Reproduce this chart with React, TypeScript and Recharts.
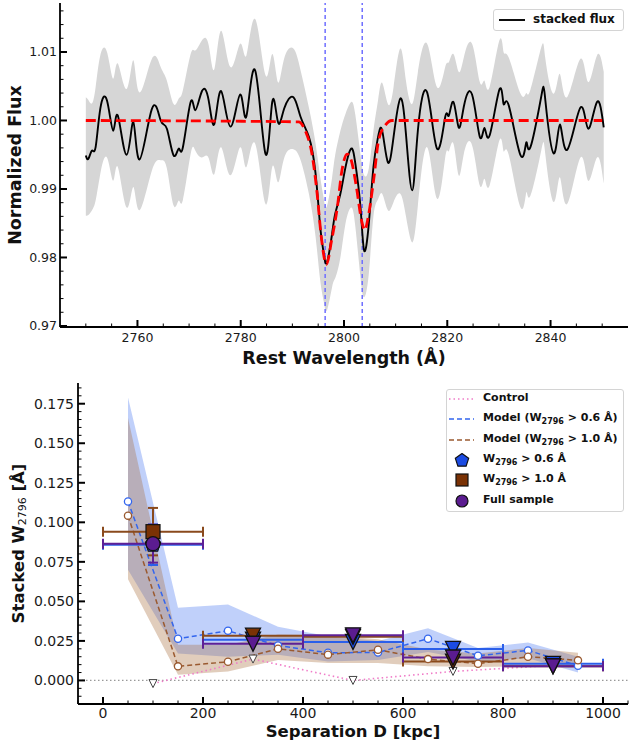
import React from 'react';
import { ComposedChart, Line, Area, Scatter, XAxis, YAxis, ReferenceLine, ErrorBar } from 'recharts';

const FONT = '"DejaVu Sans", "Liberation Sans", sans-serif';

// ---------- top panel: stacked Mg II spectrum ----------
const WAVE = [
  2750.0, 2750.5, 2751.2, 2751.9, 2752.8, 2754.1, 2755.3, 2756.2, 2757.9, 2759.2,
  2760.4, 2762.8, 2764.5, 2765.7, 2767.0, 2768.0, 2768.8, 2770.3, 2771.2, 2772.5,
  2773.8, 2774.9, 2776.2, 2778.0, 2779.9, 2781.1, 2782.8, 2784.8, 2786.1, 2787.2,
  2788.4, 2790.2, 2791.6, 2793.2, 2794.5, 2795.4, 2796.1, 2796.7, 2797.7, 2798.3,
  2799.3, 2800.3, 2801.4, 2802.2, 2803.2, 2803.9, 2804.8, 2805.7, 2806.6, 2807.4,
  2808.5, 2809.6, 2810.9, 2812.0, 2813.2, 2814.3, 2816.1, 2818.0, 2819.6, 2820.3,
  2821.2, 2822.2, 2823.2, 2824.8, 2826.3, 2827.2, 2828.2, 2830.1, 2830.9, 2831.9,
  2834.2, 2835.3, 2836.1, 2838.2, 2839.0, 2840.6, 2841.8, 2843.2, 2845.8, 2847.3,
  2849.0, 2850.3,
];
const FLUX = [
  0.9949, 0.9944, 0.9956, 0.9961, 1.0017, 1.0029, 0.9985, 1.0007, 0.995, 0.9998,
  0.9943, 1.0017, 1.0, 0.9988, 0.9949, 0.9959, 0.9961, 1.0027, 1.0015, 1.0043,
  1.0029, 0.9995, 1.0043, 0.9991, 1.0038, 1.0006, 1.0073, 0.9951, 1.0027, 0.9998,
  1.0017, 1.0034, 1.0005, 0.9976, 0.9922, 0.9844, 0.9805, 0.9793, 0.9835, 0.9864,
  0.9893, 0.9932, 0.9959, 0.9937, 0.9873, 0.981, 0.9849, 0.9932, 0.9976, 0.9985,
  0.9939, 0.9976, 1.0032, 0.998, 0.9898, 0.9985, 1.0041, 0.9959, 1.0005, 1.0007,
  1.0027, 0.999, 1.002, 1.0038, 0.9976, 0.9989, 0.9978, 1.0045, 1.0024, 1.0022,
  0.9949, 0.9968, 0.9961, 1.0035, 1.0029, 0.9952, 0.9994, 0.9957, 1.0019, 0.9988,
  1.0027, 0.999,
];
const FLUX_LO = [
  0.9861, 0.9862, 0.9869, 0.9883, 0.9922, 0.9946, 0.9912, 0.9932, 0.9873, 0.9903,
  0.9869, 0.9927, 0.9942, 0.993, 0.9876, 0.9883, 0.9884, 0.9951, 0.9956, 0.9946,
  0.9945, 0.9922, 0.9961, 0.992, 0.9961, 0.9932, 0.9966, 0.9878, 0.9932, 0.991,
  0.9945, 0.9958, 0.9942, 0.9893, 0.983, 0.9766, 0.9735, 0.9723, 0.9757, 0.977,
  0.98, 0.985, 0.9873, 0.9845, 0.977, 0.9742, 0.9776, 0.986, 0.9885, 0.9893,
  0.9869, 0.9881, 0.9893, 0.986, 0.9822, 0.9875, 0.9961, 0.9886, 0.9946, 0.9955,
  0.9966, 0.992, 0.9951, 0.9964, 0.9905, 0.9915, 0.9905, 0.9971, 0.9955, 0.995,
  0.9873, 0.9895, 0.989, 0.9956, 0.995, 0.9881, 0.9917, 0.9878, 0.9946, 0.9912,
  0.9946, 0.9908,
];
const FLUX_HI = [
  1.0034, 1.003, 1.0025, 1.0049, 1.0095, 1.01, 1.0061, 1.0083, 1.0046, 1.0088,
  1.0041, 1.009, 1.0078, 1.0058, 1.0024, 1.0032, 1.0044, 1.0097, 1.0102, 1.0117,
  1.011, 1.0075, 1.0131, 1.0078, 1.0112, 1.0095, 1.0148, 1.0066, 1.0097, 1.0056,
  1.009, 1.0105, 1.0073, 1.0019, 0.9966, 0.9917, 0.9885, 0.9875, 0.9917, 0.995,
  0.9985, 1.001, 1.0027, 1.0008, 0.995, 0.992, 0.993, 0.9985, 1.003, 1.0055,
  1.0024, 1.0049, 1.0105, 1.0058, 1.0024, 1.007, 1.0112, 1.0049, 1.0078, 1.0085,
  1.0097, 1.0071, 1.0092, 1.0112, 1.0056, 1.0058, 1.0049, 1.0117, 1.01, 1.0092,
  1.0039, 1.004, 1.0045, 1.0107, 1.009, 1.0039, 1.0068, 1.0034, 1.009, 1.0056,
  1.0095, 1.0071,
];
const FIT_WAVE = [
  2750, 2791.2, 2792.5, 2793.8, 2794.8, 2795.6, 2796.6, 2797.6, 2798.7, 2799.6,
  2800.6, 2801.4, 2802.4, 2803.4, 2804.0, 2804.8, 2805.8, 2806.7, 2808.0, 2809.3, 2850,
];
const FIT_FLUX = [
  1.0, 0.9998, 0.9985, 0.9951, 0.9893, 0.983, 0.979, 0.9825, 0.9873, 0.9927,
  0.9951, 0.9942, 0.9903, 0.9854, 0.984, 0.9864, 0.9917, 0.9971, 0.9993, 1.0, 1.0,
];
const MGII = [2796.35, 2803.53];
const WAVE_MAJOR = [2760, 2780, 2800, 2820, 2840];
const FLUX_MAJOR = [0.97, 0.98, 0.99, 1.0, 1.01];

// ---------- bottom panel: W2796 vs separation ----------
const SEP = [50, 150, 250, 350, 450, 550, 650, 750, 850, 950];
const MOD06 = [0.1132, 0.0264, 0.0314, 0.0221, 0.0175, 0.0177, 0.0264, 0.0156, 0.019, 0.0093];
const MOD06_LO = [0.07, 0.017, 0.015, 0.0163, 0.012, 0.013, 0.018, 0.012, 0.014, 0.005];
const MOD06_HI = [0.179, 0.046, 0.048, 0.034, 0.028, 0.025, 0.033, 0.0205, 0.024, 0.015];
const MOD10 = [0.1042, 0.0089, 0.0118, 0.02, 0.0163, 0.0194, 0.0135, 0.0106, 0.015, 0.0127];
const MOD10_LO = [0.064, 0.0036, 0.0057, 0.013, 0.011, 0.011, 0.009, 0.0085, 0.009, 0.008];
const MOD10_HI = [0.166, 0.0225, 0.0226, 0.029, 0.0285, 0.026, 0.0195, 0.017, 0.0205, 0.0175];
const CTRL_SEP = [100, 300, 500, 700, 900];
const CTRL_W = [-0.002, 0.0135, 0.0, 0.0057, 0.0095];
const BIN_SEP = [100, 300, 500, 700, 900];
const BIN_HALF = 100;
const W06 = [0.0858, 0.0258, 0.0243, 0.0199, 0.0105];
const W10 = [0.0941, 0.0283, 0.0276, 0.0119, 0.009];
const WALL = [0.0865, 0.0232, 0.0285, 0.0145, 0.0089];
const W06_ERR = 0.0128;
const W10_ERR = 0.015;
const WALL_ERR = 0.012;
const SEP_MAJOR = [0, 200, 400, 600, 800, 1000];
const W_MAJOR = [0, 0.025, 0.05, 0.075, 0.1, 0.125, 0.15, 0.175];

const C06 = '#1b4be2';
const C10 = '#7a3205';
const CALL = '#5b1c90';
const BAR06 = '#2b5fea';
const BAR10 = '#8a4a1c';
const BARALL = '#5e2096';
const LINE06 = '#3366ee';
const LINE10 = '#9a5a30';
const CTRL_C = '#f07cc8';

const steps = (a: number, b: number, s: number) => {
  const out: number[] = [];
  for (let v = a; v <= b + s * 1e-6; v += s) out.push(+v.toFixed(6));
  return out;
};

const specRows = WAVE.map((x, i) => ({ x, flux: FLUX[i], band: [FLUX_LO[i], FLUX_HI[i]] }));
const fitRows = FIT_WAVE.map((x, i) => ({ x, fit: FIT_FLUX[i] }));
const modelRows = SEP.map((x, i) => ({
  x,
  m06: MOD06[i],
  m10: MOD10[i],
  b06: [MOD06_LO[i], MOD06_HI[i]],
  b10: [MOD10_LO[i], MOD10_HI[i]],
}));
const ctrlRows = CTRL_SEP.map((x, i) => ({ x, ctrl: CTRL_W[i] }));
const binRows = (ws: number[], err: number) =>
  BIN_SEP.map((x, i) => ({ x, y: ws[i], xErr: BIN_HALF, yErr: err }));

type Side = 'bottom' | 'top' | 'left' | 'right';

function tickMaker(side: Side, majors: number[], fmt: ((v: number) => string) | null, size: number, pad: number) {
  return (props: any) => {
    const { x, y, payload } = props;
    const v = payload.value;
    const major = majors.some((m) => Math.abs(m - v) < 1e-6);
    const len = major ? 7 : 3.5;
    const dx = side === 'left' ? len : side === 'right' ? -len : 0;
    const dy = side === 'bottom' ? -len : side === 'top' ? len : 0;
    let text = null;
    if (major && fmt) {
      text =
        side === 'bottom' ? (
          <text x={x} y={y + pad} textAnchor="middle" dominantBaseline="central" fontSize={size} fontFamily={FONT} fill="#1a1a1a">
            {fmt(v)}
          </text>
        ) : (
          <text x={x - pad} y={y} textAnchor="end" dominantBaseline="central" fontSize={size} fontFamily={FONT} fill="#1a1a1a">
            {fmt(v)}
          </text>
        );
    }
    return (
      <g>
        <line x1={x} y1={y} x2={x + dx} y2={y + dy} stroke="#000" strokeWidth={major ? 2 : 1} />
        {text}
      </g>
    );
  };
}

const triDown = (cx: number, cy: number, r: number, fill: string, stroke: string, sw: number) => (
  <polygon points={`${cx - r},${cy - r} ${cx + r},${cy - r} ${cx},${cy + r}`} fill={fill} stroke={stroke} strokeWidth={sw} />
);
const pentagon = (cx: number, cy: number, r: number, fill: string) => {
  const pts = [0, 1, 2, 3, 4]
    .map((k) => {
      const a = ((-90 + 72 * k) * Math.PI) / 180;
      return `${cx + r * Math.cos(a)},${cy + r * Math.sin(a)}`;
    })
    .join(' ');
  return <polygon points={pts} fill={fill} stroke="#111" strokeWidth={1.2} />;
};
const square = (cx: number, cy: number, r: number, fill: string) => (
  <rect x={cx - r} y={cy - r} width={2 * r} height={2 * r} fill={fill} stroke="#111" strokeWidth={1.2} />
);
const circle = (cx: number, cy: number, r: number, fill: string) => (
  <circle cx={cx} cy={cy} r={r} fill={fill} stroke="#111" strokeWidth={1.2} />
);

const spine = { stroke: '#000', strokeWidth: 1.8 };

function SpectrumPanel() {
  const xTicks = steps(2750, 2850, 5);
  const yTicks = steps(0.97, 1.016, 0.002);
  return (
    <ComposedChart width={630} height={370} data={specRows} margin={{ top: 3, right: 2, bottom: 0, left: 0 }}>
      <XAxis
        dataKey="x"
        type="number"
        domain={[2745, 2855]}
        allowDataOverflow
        ticks={xTicks}
        interval={0}
        tickLine={false}
        tickSize={0}
        tickMargin={0}
        axisLine={spine}
        height={43}
        tick={tickMaker('bottom', WAVE_MAJOR, (v) => String(v), 12.5, 10)}
        label={{
          content: (p: any) => {
            const vb = p.viewBox;
            return (
              <text x={vb.x + vb.width / 2} y={vb.y + 37} textAnchor="middle" fontSize={17.5} fontWeight="bold" fontFamily={FONT} fill="#111">
                Rest Wavelength (Å)
              </text>
            );
          },
        }}
      />
      <XAxis xAxisId="top" orientation="top" type="number" domain={[2745, 2855]} allowDataOverflow ticks={xTicks} interval={0} tickLine={false} tickSize={0} tickMargin={0} axisLine={spine} height={0} tick={tickMaker('top', WAVE_MAJOR, null, 12, 0)} />
      <YAxis
        type="number"
        domain={[0.96985, 1.01715]}
        allowDataOverflow
        ticks={yTicks}
        interval={0}
        tickLine={false}
        tickSize={0}
        tickMargin={0}
        axisLine={spine}
        width={60}
        tick={tickMaker('left', FLUX_MAJOR, (v) => v.toFixed(2), 12.5, 3)}
        label={{
          content: (p: any) => {
            const vb = p.viewBox;
            const cx = vb.x + 15;
            const cy = vb.y + vb.height / 2;
            return (
              <text transform={`translate(${cx},${cy}) rotate(-90)`} textAnchor="middle" dominantBaseline="central" fontSize={17.5} fontWeight="bold" fontFamily={FONT} fill="#111">
                Normalized Flux
              </text>
            );
          },
        }}
      />
      <YAxis yAxisId="right" orientation="right" type="number" domain={[0.96985, 1.01715]} allowDataOverflow ticks={yTicks} interval={0} tickLine={false} tickSize={0} tickMargin={0} axisLine={spine} width={0} tick={tickMaker('right', FLUX_MAJOR, null, 12, 0)} />
      <Area dataKey="band" type="natural" fill="#d6d6d6" fillOpacity={1} stroke="none" isAnimationActive={false} />
      {MGII.map((w) => (
        <ReferenceLine key={w} x={w} stroke="#6f6fff" strokeWidth={1.5} strokeDasharray="4 3" />
      ))}
      <Line dataKey="flux" type="natural" stroke="#000" strokeWidth={1.9} dot={false} isAnimationActive={false} />
      <Line data={fitRows} dataKey="fit" type="monotone" stroke="#ff0000" strokeWidth={2.8} strokeDasharray="10 5" dot={false} isAnimationActive={false} />
    </ComposedChart>
  );
}

function SeparationPanel() {
  const xTicks = steps(-50, 1050, 50);
  const yTicks = steps(-0.01, 0.185, 0.005);
  const groups = [
    { ws: W06, err: W06_ERR, bar: BAR06, fill: C06, det: (cx: number, cy: number) => pentagon(cx, cy, 8, C06) },
    { ws: W10, err: W10_ERR, bar: BAR10, fill: C10, det: (cx: number, cy: number) => square(cx, cy, 7, C10) },
    { ws: WALL, err: WALL_ERR, bar: BARALL, fill: CALL, det: (cx: number, cy: number) => circle(cx, cy, 7, CALL) },
  ];
  return (
    <ComposedChart width={630} height={374} data={modelRows} margin={{ top: 13, right: 2, bottom: 0, left: 0 }}>
      <XAxis
        dataKey="x"
        type="number"
        domain={[-50, 1050]}
        allowDataOverflow
        ticks={xTicks}
        interval={0}
        tickLine={false}
        tickSize={0}
        tickMargin={0}
        axisLine={spine}
        height={40}
        tick={tickMaker('bottom', SEP_MAJOR, (v) => String(v), 14, 9)}
        label={{
          content: (p: any) => {
            const vb = p.viewBox;
            return (
              <text x={vb.x + vb.width / 2} y={vb.y + 33} textAnchor="middle" fontSize={16.5} fontWeight="bold" fontFamily={FONT} fill="#111">
                Separation D [kpc]
              </text>
            );
          },
        }}
      />
      <XAxis xAxisId="top" orientation="top" type="number" domain={[-50, 1050]} allowDataOverflow ticks={xTicks} interval={0} tickLine={false} tickSize={0} tickMargin={0} axisLine={spine} height={0} tick={tickMaker('top', SEP_MAJOR, null, 12, 0)} />
      <YAxis
        type="number"
        domain={[-0.0149, 0.1881]}
        allowDataOverflow
        ticks={yTicks}
        interval={0}
        tickLine={false}
        tickSize={0}
        tickMargin={0}
        axisLine={spine}
        width={78}
        tick={tickMaker('left', W_MAJOR, (v) => v.toFixed(3), 14, 4)}
        label={{
          content: (p: any) => {
            const vb = p.viewBox;
            const cx = vb.x + 18;
            const cy = vb.y + vb.height / 2;
            return (
              <text transform={`translate(${cx},${cy}) rotate(-90)`} textAnchor="middle" dominantBaseline="central" fontSize={16.5} fontWeight="bold" fontFamily={FONT} fill="#111" style={{ whiteSpace: 'pre' }}>
                <tspan>Stacked W</tspan>
                <tspan fontSize={11} fontWeight="normal" dy={4}>2796</tspan>
                <tspan dy={-4}> [Å]</tspan>
              </text>
            );
          },
        }}
      />
      <YAxis yAxisId="right" orientation="right" type="number" domain={[-0.0149, 0.1881]} allowDataOverflow ticks={yTicks} interval={0} tickLine={false} tickSize={0} tickMargin={0} axisLine={spine} width={0} tick={tickMaker('right', W_MAJOR, null, 12, 0)} />

      <Area dataKey="b06" type="linear" fill="#4a78f0" fillOpacity={0.35} stroke="none" isAnimationActive={false} />
      <Area dataKey="b10" type="linear" fill="#a9703f" fillOpacity={0.35} stroke="none" isAnimationActive={false} />
      <ReferenceLine y={0} stroke="#999" strokeWidth={1.2} strokeDasharray="1.5 2.5" />
      <Line
        data={ctrlRows}
        dataKey="ctrl"
        type="linear"
        stroke={CTRL_C}
        strokeWidth={1.6}
        strokeDasharray="1.5 3"
        isAnimationActive={false}
        dot={(p: any) => <g key={`c${p.index}`}>{triDown(p.cx, p.cy, 4, '#fff', '#444', 1)}</g>}
      />
      <Line dataKey="m06" type="linear" stroke={LINE06} strokeWidth={1.5} strokeDasharray="5 3" isAnimationActive={false} dot={{ r: 3.6, fill: '#fff', stroke: LINE06, strokeWidth: 1.3, strokeDasharray: 'none' }} />
      <Line dataKey="m10" type="linear" stroke={LINE10} strokeWidth={1.5} strokeDasharray="5 3" isAnimationActive={false} dot={{ r: 3.6, fill: '#fff', stroke: LINE10, strokeWidth: 1.3, strokeDasharray: 'none' }} />

      {groups.map((g, gi) => {
        const rows = binRows(g.ws, g.err);
        return [
          <Scatter
            key={`lim${gi}`}
            data={rows.slice(1)}
            dataKey="y"
            isAnimationActive={false}
            shape={(p: any) => triDown(p.cx, p.cy, 7.5, g.fill, '#111', 1.3)}
          >
            <ErrorBar dataKey="xErr" direction="x" width={5} stroke={g.bar} strokeWidth={2} />
          </Scatter>,
          <Scatter key={`det${gi}`} data={rows.slice(0, 1)} dataKey="y" isAnimationActive={false} shape={(p: any) => g.det(p.cx, p.cy)}>
            <ErrorBar dataKey="xErr" direction="x" width={5} stroke={g.bar} strokeWidth={2} />
            <ErrorBar dataKey="yErr" direction="y" width={5} stroke={g.bar} strokeWidth={2} />
          </Scatter>,
        ];
      })}
    </ComposedChart>
  );
}

const legendText: React.CSSProperties = {
  position: 'absolute',
  fontFamily: FONT,
  fontWeight: 'bold',
  fontSize: 11,
  lineHeight: '14px',
  color: '#111',
  whiteSpace: 'nowrap',
};

function Sub({ children }: { children: React.ReactNode }) {
  return <span style={{ fontSize: 8, position: 'relative', top: 3 }}>{children}</span>;
}

const LEGEND_ROWS: { label: React.ReactNode; icon: React.ReactNode }[] = [
  { label: 'Control', icon: <line x1={1} y1={7} x2={26} y2={7} stroke={CTRL_C} strokeWidth={1.6} strokeDasharray="1.5 3" /> },
  { label: <>Model (W<Sub>2796</Sub> &gt; 0.6 Å)</>, icon: <line x1={1} y1={7} x2={26} y2={7} stroke={LINE06} strokeWidth={1.6} strokeDasharray="5 3" /> },
  { label: <>Model (W<Sub>2796</Sub> &gt; 1.0 Å)</>, icon: <line x1={1} y1={7} x2={26} y2={7} stroke={LINE10} strokeWidth={1.6} strokeDasharray="5 3" /> },
  { label: <>W<Sub>2796</Sub> &gt; 0.6 Å</>, icon: pentagon(14, 7.5, 7, C06) },
  { label: <>W<Sub>2796</Sub> &gt; 1.0 Å</>, icon: square(14, 7, 6, C10) },
  { label: 'Full sample', icon: circle(14, 7, 6, CALL) },
];

export default function App() {
  return (
    <div style={{ position: 'absolute', left: 0, top: 0, width: 630, height: 744, background: '#fff', fontFamily: FONT }}>
      <div style={{ position: 'absolute', left: 0, top: 0 }}>
        <SpectrumPanel />
      </div>
      <div style={{ position: 'absolute', left: 0, top: 370 }}>
        <SeparationPanel />
      </div>

      <div style={{ position: 'absolute', left: 493, top: 9, width: 131, height: 22, border: '1px solid #d4d4d4', borderRadius: 3, background: 'rgba(255,255,255,0.85)', boxSizing: 'border-box' }}>
        <svg style={{ position: 'absolute', left: 4, top: 3 }} width={28} height={14}>
          <line x1={1} y1={7} x2={27} y2={7} stroke="#000" strokeWidth={1.9} />
        </svg>
        <span style={{ ...legendText, fontSize: 12, left: 39, top: 2 }}>stacked flux</span>
      </div>

      <div style={{ position: 'absolute', left: 446, top: 389, width: 178, height: 123, border: '1px solid #d4d4d4', borderRadius: 3, background: 'rgba(255,255,255,0.85)', boxSizing: 'border-box' }}>
        {LEGEND_ROWS.map((r, i) => {
          const cy = 9 + i * 20.35;
          return (
            <React.Fragment key={i}>
              <svg style={{ position: 'absolute', left: 1, top: cy - 7 }} width={28} height={15}>
                {r.icon}
              </svg>
              <span style={{ ...legendText, left: 36, top: cy - 8 }}>{r.label}</span>
            </React.Fragment>
          );
        })}
      </div>
    </div>
  );
}
